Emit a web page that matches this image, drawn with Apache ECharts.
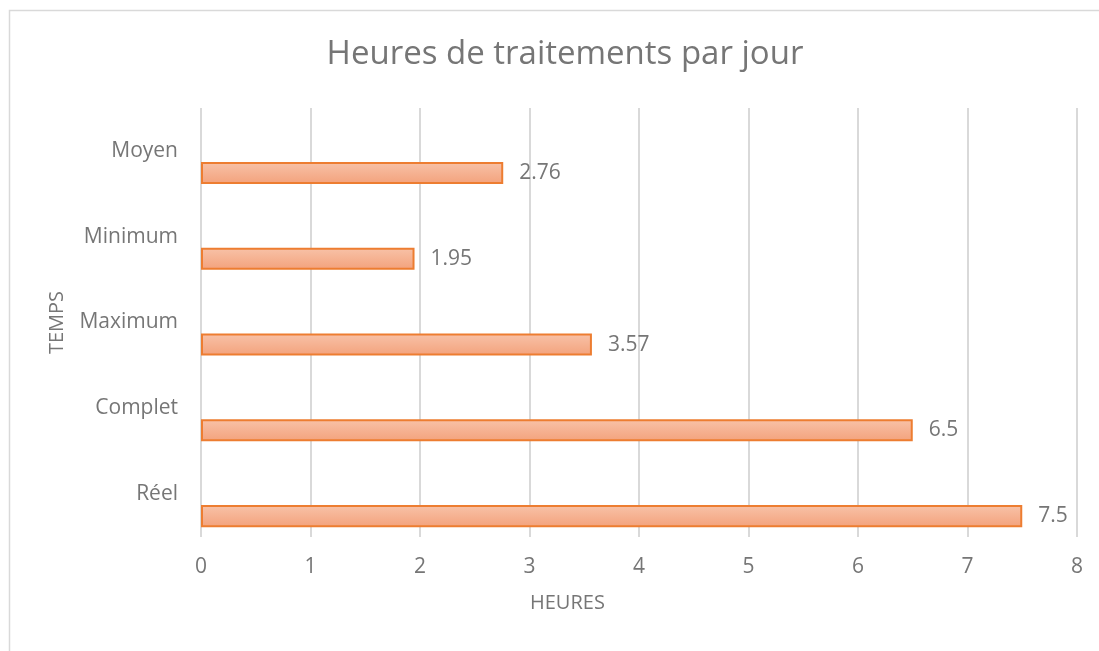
<!DOCTYPE html>
<html>
<head>
<meta charset="utf-8">
<script src="https://cdn.jsdelivr.net/npm/echarts@6/dist/echarts.min.js"></script>
<style>
html,body{margin:0;padding:0;background:#fff;}
#chart{width:1099px;height:651px;}
</style>
</head>
<body>
<div id="chart"></div>
<script>
const categories = ['Réel', 'Complet', 'Maximum', 'Minimum', 'Moyen'];
const hours = [7.5, 6.5, 3.57, 1.95, 2.76];
const emptySlot = [null, null, null, null, null];
const xTicks = [0, 8, 1];

const textColor = '#767676';
const font = 'Open Sans';

const chart = echarts.init(document.getElementById('chart'));
chart.setOption({
  animation: false,
  backgroundColor: '#fff',
  title: {
    text: 'Heures de traitements par jour',
    left: 560,
    top: 33,
    textAlign: 'center',
    textStyle: { color: textColor, fontFamily: font, fontSize: 33, fontWeight: 'normal' }
  },
  graphic: [
    {
      type: 'rect', silent: true, z: -1,
      shape: { x: 9.5, y: 10.5, width: 1200, height: 700 },
      style: { fill: 'none', stroke: '#d9d9d9', lineWidth: 1.5 }
    },
    {
      type: 'text', left: 530, top: 593,
      style: { text: 'HEURES', fill: textColor, font: '20px "Open Sans"' }
    }
  ],
  grid: { left: 201, right: 22, top: 108, bottom: 114, containLabel: false },
  xAxis: {
    type: 'value',
    min: xTicks[0], max: xTicks[1], interval: xTicks[2],
    axisLine: { show: false },
    axisTick: { show: false },
    axisLabel: { color: textColor, fontFamily: font, fontSize: 21, margin: 20 },
    splitLine: { show: true, lineStyle: { color: '#d9d9d9', width: 2 } }
  },
  yAxis: {
    type: 'category',
    data: categories,
    name: 'TEMPS',
    nameLocation: 'middle',
    nameGap: 134,
    nameRotate: 90,
    nameTextStyle: { color: textColor, fontFamily: font, fontSize: 20 },
    axisLine: { show: false },
    axisTick: { show: false },
    axisLabel: { color: textColor, fontFamily: font, fontSize: 21, margin: 23 },
    splitLine: { show: false }
  },
  series: [
    {
      type: 'bar', data: emptySlot, barGap: '100%', barCategoryGap: '23%'
    },
    {
      type: 'bar',
      data: hours,
      barGap: '100%', barCategoryGap: '23%',
      itemStyle: {
        color: new echarts.graphic.LinearGradient(0, 0, 0, 1, [
          { offset: 0, color: '#f8c2a8' },
          { offset: 1, color: '#f3a27c' }
        ]),
        borderColor: '#ed7d31',
        borderWidth: 2
      },
      label: {
        show: true, position: 'right', distance: 16,
        color: textColor, fontFamily: font, fontSize: 21
      }
    }
  ]
});
</script>
</body>
</html>
